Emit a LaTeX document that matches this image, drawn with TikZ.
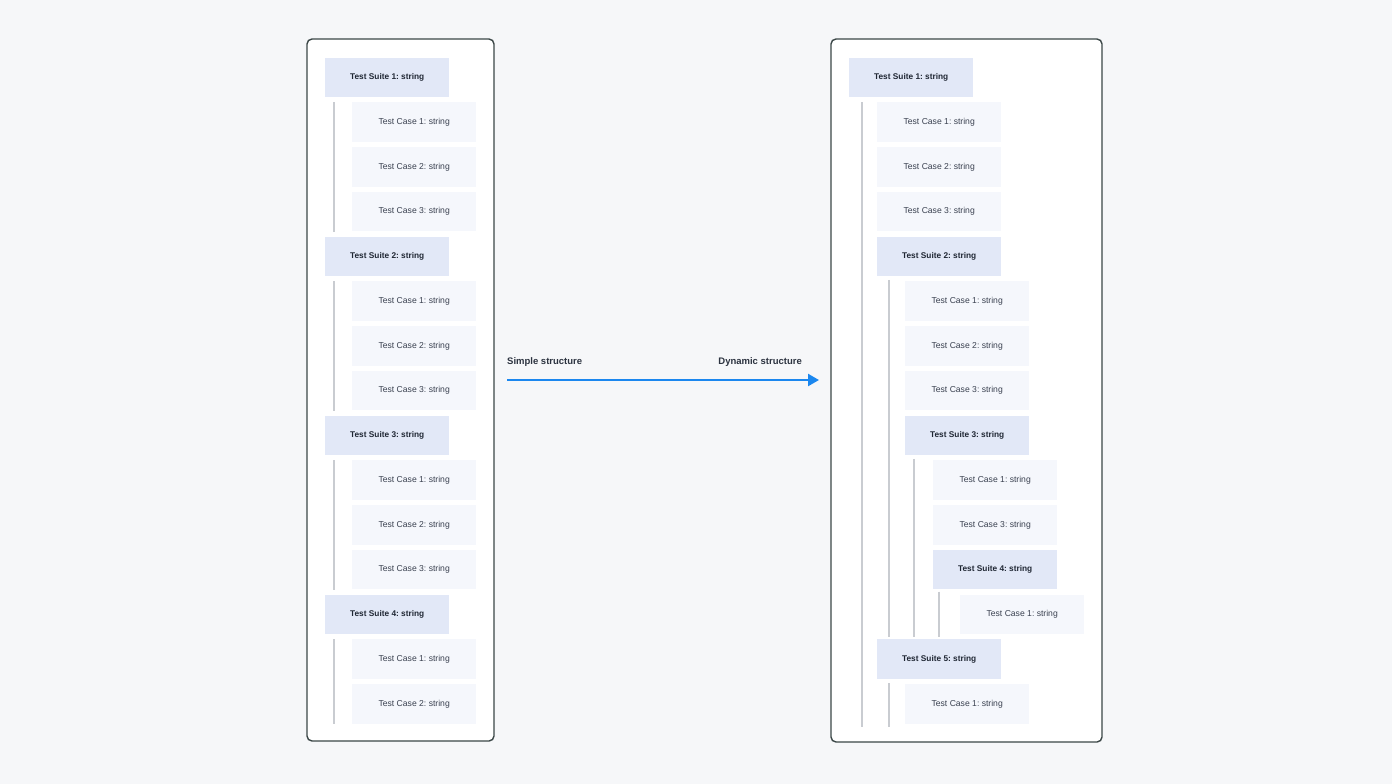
\documentclass[tikz,border=0pt]{standalone}
\usepackage{fontspec}
\setmainfont{Liberation Sans}
\frenchspacing
\usetikzlibrary{arrows.meta,calc}
\definecolor{bg}{HTML}{F6F7F9}
\definecolor{panelborder}{HTML}{3B4747}
\definecolor{suitefill}{HTML}{E2E8F7}
\definecolor{casefill}{HTML}{F5F7FC}
\definecolor{suitetext}{HTML}{1F2633}
\definecolor{casetext}{HTML}{3A4150}
\definecolor{treeline}{HTML}{C9CCD1}
\definecolor{arrowblue}{HTML}{1B87EF}
\definecolor{labeltext}{HTML}{2C3340}
\tikzset{
  panel/.style={draw=panelborder, line width=1.4pt, fill=white, rounded corners=5pt},
  boxbase/.style={anchor=north west, minimum width=124pt, minimum height=39.5pt, inner sep=0pt, draw=none},
  suitebox/.style={boxbase, fill=suitefill, text=suitetext, font=\fontsize{8.3}{10}\selectfont\bfseries},
  casebox/.style={boxbase, fill=casefill, text=casetext, font=\fontsize{8.6}{10}\selectfont},
  treeln/.style={draw=treeline, line width=1.3pt},
  flowarrow/.style={draw=arrowblue, line width=2.4pt, -{Triangle[length=11pt,width=12pt]}},
  arrlabel/.style={text=labeltext, font=\fontsize{9.5}{11}\selectfont\bfseries, inner sep=0pt}
}
\begin{document}
\begin{tikzpicture}[x=1pt,y=-1pt]
\useasboundingbox (0,0) rectangle (1392,784);
\fill[bg] (0,0) rectangle (1392,784);
% panels
\draw[panel] (307,39) rectangle (494,741);
\draw[panel] (831,39) rectangle (1102,742);
% ---------- left panel ----------
\def\ry#1{57.5+44.75*#1}
\node[suitebox] (ls1) at (325,{\ry{0}}) {Test Suite 1: string};
\node[casebox] (ls1c1) at (352,{\ry{1}}) {Test Case 1: string};
\node[casebox] (ls1c2) at (352,{\ry{2}}) {Test Case 2: string};
\node[casebox] (ls1c3) at (352,{\ry{3}}) {Test Case 3: string};
\node[suitebox] (ls2) at (325,{\ry{4}}) {Test Suite 2: string};
\node[casebox] (ls2c1) at (352,{\ry{5}}) {Test Case 1: string};
\node[casebox] (ls2c2) at (352,{\ry{6}}) {Test Case 2: string};
\node[casebox] (ls2c3) at (352,{\ry{7}}) {Test Case 3: string};
\node[suitebox] (ls3) at (325,{\ry{8}}) {Test Suite 3: string};
\node[casebox] (ls3c1) at (352,{\ry{9}}) {Test Case 1: string};
\node[casebox] (ls3c2) at (352,{\ry{10}}) {Test Case 2: string};
\node[casebox] (ls3c3) at (352,{\ry{11}}) {Test Case 3: string};
\node[suitebox] (ls4) at (325,{\ry{12}}) {Test Suite 4: string};
\node[casebox] (ls4c1) at (352,{\ry{13}}) {Test Case 1: string};
\node[casebox] (ls4c2) at (352,{\ry{14}}) {Test Case 2: string};
\coordinate (lx) at (334,0);
\draw[treeln] (lx |- ls1c1.north) -- (lx |- ls1c3.south);
\draw[treeln] (lx |- ls2c1.north) -- (lx |- ls2c3.south);
\draw[treeln] (lx |- ls3c1.north) -- (lx |- ls3c3.south);
\draw[treeln] (lx |- ls4c1.north) -- (lx |- ls4c2.south);
% ---------- right panel ----------
\node[suitebox] (rs1) at (849,{\ry{0}}) {Test Suite 1: string};
\node[casebox] (rs1c1) at (877,{\ry{1}}) {Test Case 1: string};
\node[casebox] (rs1c2) at (877,{\ry{2}}) {Test Case 2: string};
\node[casebox] (rs1c3) at (877,{\ry{3}}) {Test Case 3: string};
\node[suitebox] (rs2) at (877,{\ry{4}}) {Test Suite 2: string};
\node[casebox] (rs2c1) at (905,{\ry{5}}) {Test Case 1: string};
\node[casebox] (rs2c2) at (905,{\ry{6}}) {Test Case 2: string};
\node[casebox] (rs2c3) at (905,{\ry{7}}) {Test Case 3: string};
\node[suitebox] (rs3) at (905,{\ry{8}}) {Test Suite 3: string};
\node[casebox] (rs3c1) at (933,{\ry{9}}) {Test Case 1: string};
\node[casebox] (rs3c3) at (933,{\ry{10}}) {Test Case 3: string};
\node[suitebox] (rs4) at (933,{\ry{11}}) {Test Suite 4: string};
\node[casebox] (rs4c1) at (960,{\ry{12}}) {Test Case 1: string};
\node[suitebox] (rs5) at (877,{\ry{13}}) {Test Suite 5: string};
\node[casebox] (rs5c1) at (905,{\ry{14}}) {Test Case 1: string};
\coordinate (rx0) at (862,0);
\coordinate (rx1) at (889,0);
\coordinate (rx2) at (914,0);
\coordinate (rx3) at (939,0);
\coordinate (rend) at (0,727);
\coordinate (rmid) at (0,636.5);
\draw[treeln] (rx0 |- rs1c1.north) -- (rx0 |- rend);
\draw[treeln] ([yshift=1.5pt]rx1 |- rs2c1.north) -- (rx1 |- rmid);
\draw[treeln] ([yshift=1.5pt]rx2 |- rs3c1.north) -- (rx2 |- rmid);
\draw[treeln] ([yshift=-2pt]rx3 |- rs4.south) -- (rx3 |- rmid);
\draw[treeln] ([yshift=1pt]rx1 |- rs5c1.north) -- (rx1 |- rend);
% ---------- arrow ----------
\coordinate (astart) at (507,380);
\coordinate (aend) at (819,380);
\draw[flowarrow] (astart) -- (aend);
\node[arrlabel, anchor=base west] (lsimple) at (507,364.5) {Simple structure};
\node[arrlabel, anchor=base east] (ldyn) at (802,364.5) {Dynamic structure};
\end{tikzpicture}
\end{document}
